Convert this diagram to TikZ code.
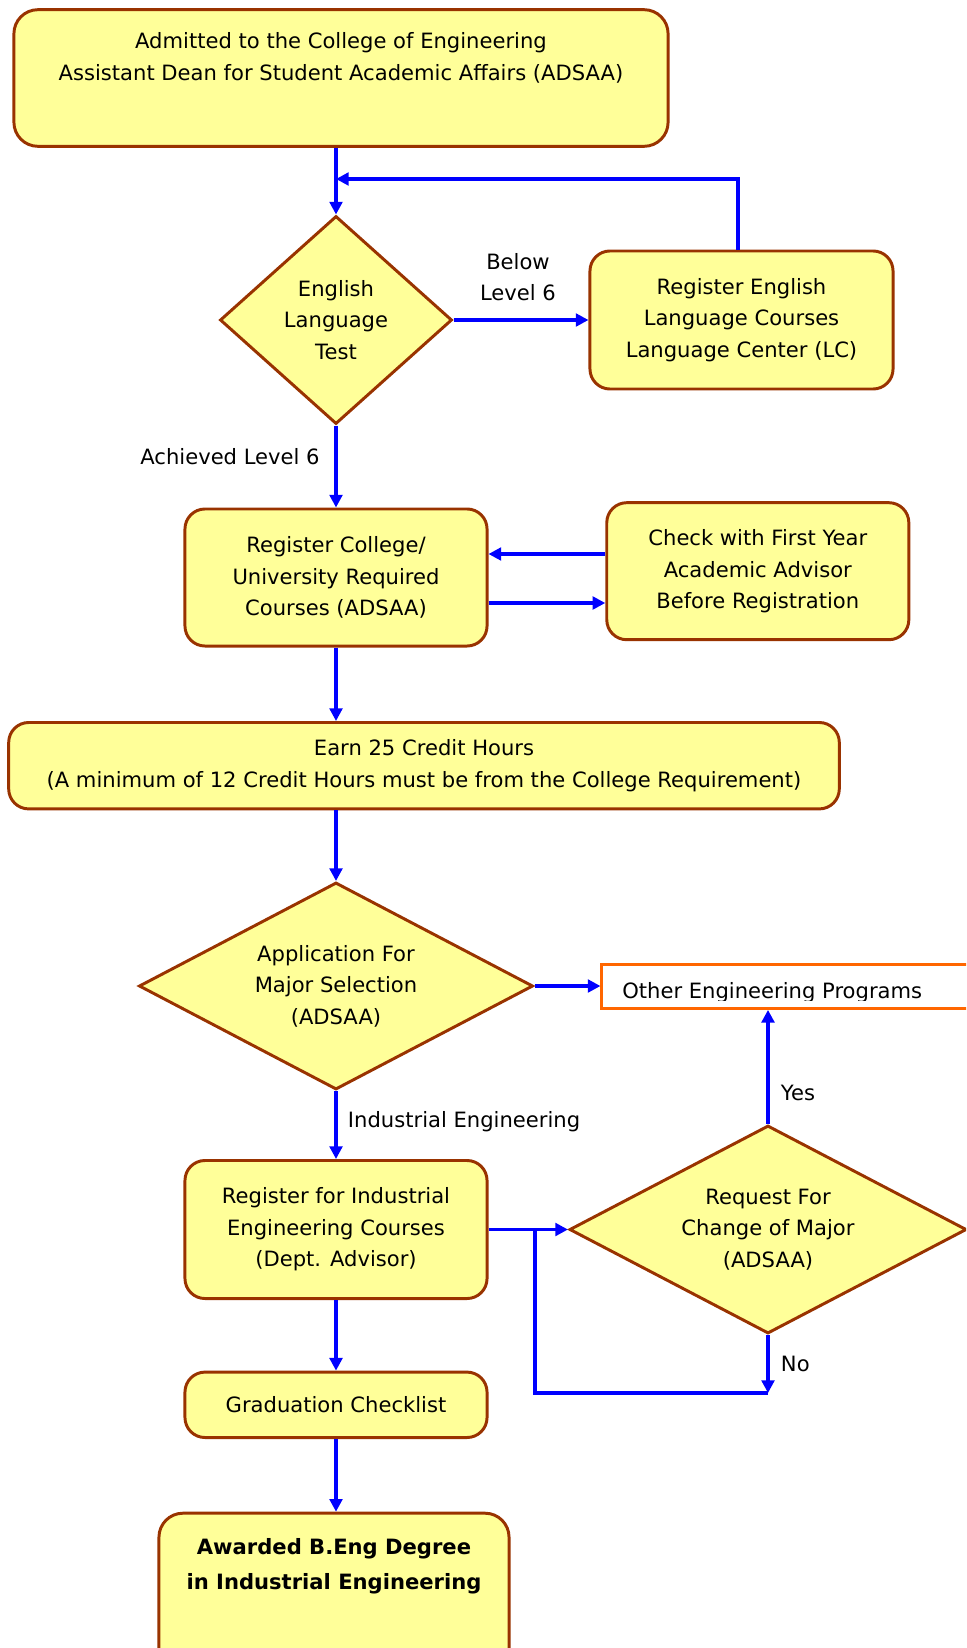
\documentclass[tikz,border=0pt]{standalone}
\usepackage{fontspec}
\setmainfont{DejaVu Sans}
\usetikzlibrary{shapes.geometric, arrows.meta}

\definecolor{boxfill}{HTML}{FFFF99}
\definecolor{boxline}{HTML}{993300}
\definecolor{otherline}{HTML}{FF6600}
\definecolor{flowblue}{HTML}{0000FF}
\newcommand{\flowfont}{\fontsize{15}{22.4}\selectfont}

\tikzset{
  stepbox/.style={draw=boxline, fill=boxfill, line width=2.1pt, rounded corners=0.5cm, align=center, font=\flowfont},
  decision/.style={diamond, draw=boxline, fill=boxfill, line width=2.1pt, align=center, inner sep=0pt, font=\flowfont},
  flow/.style={draw=flowblue, line width=2.3pt, -{Triangle[length=9pt, width=9pt]}},
  flowline/.style={draw=flowblue, line width=2.3pt},
  note/.style={align=center, font=\flowfont}
}

\begin{document}
\begin{tikzpicture}[x=0.025cm, y=-0.025cm]
        \clip (0,0) rectangle (966,1648);
        \fill[white] (0,0) rectangle (966,1648);

        % Boxes
        \node[stepbox, minimum width=16.35cm, minimum height=3.415cm, rounded corners=0.6cm] (admit) at (341,78) {};
        \node[note] (admittext) at (341,58) {Admitted to the College of Engineering\\Assistant Dean for Student Academic Affairs (ADSAA)};
        \node[decision, aspect=1.1, minimum width=5.8cm, minimum height=5.2cm] (eng) at (336,320) {English\\Language\\Test};
        \node[stepbox, minimum width=7.575cm, minimum height=3.45cm] (lang) at (741.5,320) {Register English\\Language Courses\\Language Center (LC)};
        \node[stepbox, minimum width=7.55cm, minimum height=3.425cm] (college) at (336,577.5) {Register College/\\University Required\\Courses (ADSAA)};
        \node[stepbox, minimum width=7.55cm, minimum height=3.425cm] (check) at (757.8,571.2) {Check with First Year\\Academic Advisor\\Before Registration};
        \node[stepbox, minimum width=20.76cm, minimum height=2.16cm] (earn) at (424,765.7) {Earn 25 Credit Hours\\(A minimum of 12 Credit Hours must be from the College Requirement)};
        \node[decision, aspect=2, minimum width=9.85cm, minimum height=5.175cm] (app) at (336,986) {Application For\\Major Selection\\(ADSAA)};
        \node[draw=otherline, fill=white, line width=2.1pt, minimum width=10.15cm, minimum height=1.1cm] (other) at (805,986.4) {};
        \begin{scope}
          \clip (600,960) rectangle (966,1000.5);
          \node[font=\flowfont, anchor=base west, inner sep=0pt] (othertext) at (622,998) {Other Engineering Programs};
        \end{scope}
        \node[stepbox, minimum width=7.55cm, minimum height=3.45cm] (ind) at (336,1229.5) {Register for Industrial\\Engineering Courses\\(Dept. Advisor)};
        \node[decision, aspect=2, minimum width=9.925cm, minimum height=5.2cm] (req) at (768,1229.5) {Request For\\Change of Major\\(ADSAA)};
        \node[stepbox, minimum width=7.55cm, minimum height=1.635cm] (grad) at (336,1404.8) {Graduation Checklist};
        \node[stepbox, minimum width=8.75cm, minimum height=4.375cm, rounded corners=0.6cm] (award) at (334,1600.7) {};
        \node[note, font=\fontsize{15}{25}\selectfont\bfseries] (awardtext) at (334,1566) {Awarded B.Eng Degree\\in Industrial Engineering};

        % Hjelpepunkter
        \coordinate (loopjoin) at (336,179);
        \coordinate (langtop) at (738,0);
        \coordinate (upy) at (0,554);
        \coordinate (loy) at (0,603);
        \coordinate (nocorner) at (768,1393);
        \coordinate (nobend) at (535,1393);
        \coordinate (nojoin) at (535,1229.5);

        % Piler
        \draw[flow] (admit.south -| eng.north) -- (eng.north);
        \draw[flow] (eng.east) -- (eng.east -| lang.west);
        \draw[flow] (langtop |- lang.north) |- (loopjoin);
        \draw[flow] (eng.south) -- (eng.south |- college.north);
        \draw[flow] (upy -| check.west) -- (upy -| college.east);
        \draw[flow] (loy -| college.east) -- (loy -| check.west);
        \draw[flow] (college.south) -- (college.south |- earn.north);
        \draw[flow] (earn.south -| app.north) -- (app.north);
        \draw[flow] (app.east) -- (app.east -| other.west);
        \draw[flow] (app.south) -- (app.south |- ind.north);
        \draw[flow] (ind.east) -- (ind.east -| req.west);
        \draw[flow] (req.north) -- (req.north |- other.south);
        \draw[flow] (req.south) -- (nocorner);
        \draw[flowline] (nocorner) -- (nobend) -- (nojoin);
        \draw[flow] (ind.south) -- (grad.north);
        \draw[flow] (grad.south) -- (grad.south |- award.north);

        % Tekster
        \node[note] (belowlbl) at (518,277) {Below\\Level 6};
        \node[note] (achievedlbl) at (230,457) {Achieved Level 6};
        \node[note, anchor=west] (indlbl) at (343,1122) {Industrial Engineering};
        \node[note, anchor=west] (yeslbl) at (776,1093) {Yes};
        \node[note, anchor=west] (nolbl) at (776,1364) {No};
\end{tikzpicture}
\end{document}
